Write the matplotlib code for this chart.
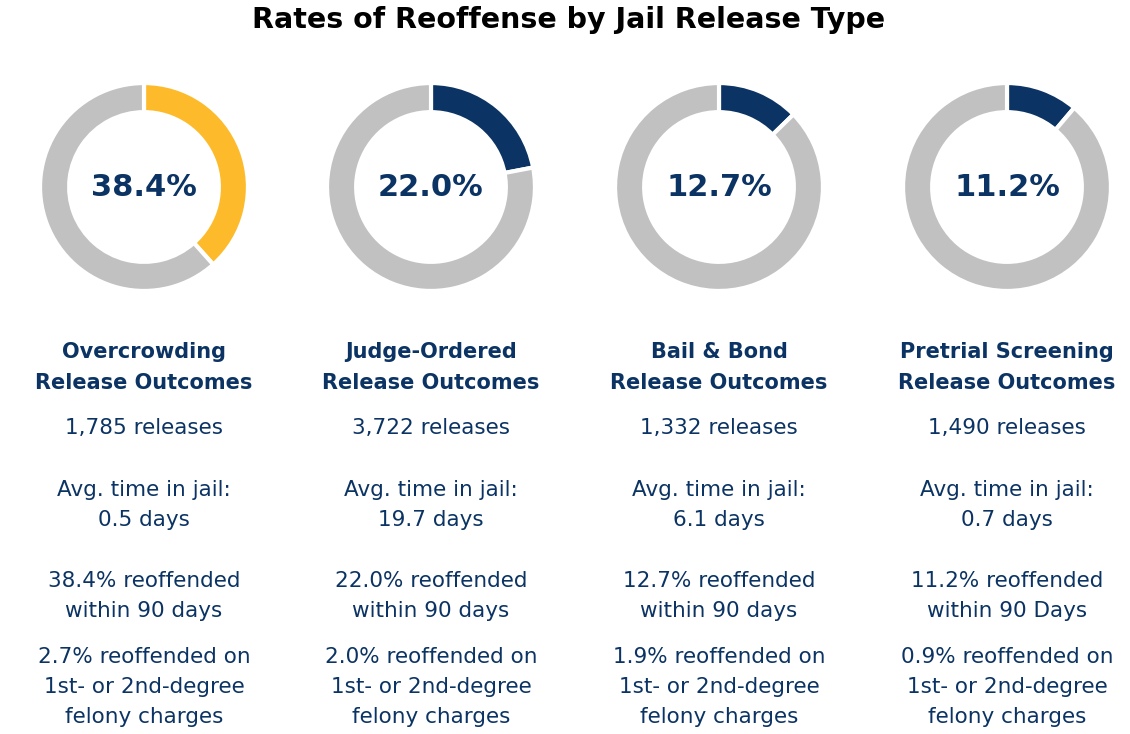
import matplotlib
matplotlib.use('Agg')
import matplotlib.pyplot as plt

# data
categories = ['Overcrowding', 'Judge-Ordered', 'Bail & Bond', 'Pretrial Screening']
rates = [38.4, 22.0, 12.7, 11.2]
releases = [1785, 3722, 1332, 1490]
avg_days = [0.5, 19.7, 6.1, 0.7]
felony_rates = [2.7, 2.0, 1.9, 0.9]
days_word = ['days', 'days', 'days', 'Days']

NAVY = '#0b3363'
YELLOW = '#fdbb2c'
GRAY = '#c1c1c1'
ring_colors = [YELLOW, NAVY, NAVY, NAVY]

W, H = 1130, 734
fig = plt.figure(figsize=(W / 100, H / 100), dpi=100)
plt.rcParams['font.family'] = ['DejaVu Sans']


def fx(px):
    return px / W


def fy(py):
    return 1 - py / H


fig.text(fx(569), fy(20), 'Rates of Reoffense by Jail Release Type',
         ha='center', va='center', fontsize=20.5, fontweight='bold', color='black')

centers = [144, 431, 719, 1007]
cy = 187
r = 105

for i, cat in enumerate(categories):
    cx = centers[i]
    ax = fig.add_axes([fx(cx - r), fy(cy + r), 2 * r / W, 2 * r / H])
    ax.pie([rates[i], 100 - rates[i]], colors=[ring_colors[i], GRAY],
           startangle=90, counterclock=False,
           wedgeprops=dict(width=0.28, edgecolor='white', linewidth=3))
    ax.set_xlim(-1.01, 1.01)
    ax.set_ylim(-1.01, 1.01)
    ax.set_aspect('equal')
    ax.axis('off')
    ax.text(0, 0, f'{rates[i]:.1f}%', ha='center', va='center',
            fontsize=22, fontweight='bold', color=NAVY)

    fig.text(fx(cx), fy(352), cat, ha='center', va='center',
             fontsize=15, fontweight='bold', color=NAVY)
    fig.text(fx(cx), fy(383), 'Release Outcomes', ha='center', va='center',
             fontsize=15, fontweight='bold', color=NAVY)
    body = [
        (428, f'{releases[i]:,} releases'),
        (490, 'Avg. time in jail:'),
        (520, f'{avg_days[i]} days'),
        (581, f'{rates[i]:.1f}% reoffended'),
        (611, f'within 90 {days_word[i]}'),
        (657, f'{felony_rates[i]}% reoffended on'),
        (687, '1st- or 2nd-degree'),
        (717, 'felony charges'),
    ]
    for y, txt in body:
        fig.text(fx(cx), fy(y), txt, ha='center', va='center',
                 fontsize=15.5, color=NAVY)

fig.savefig('out.png', dpi=100, facecolor='white')
